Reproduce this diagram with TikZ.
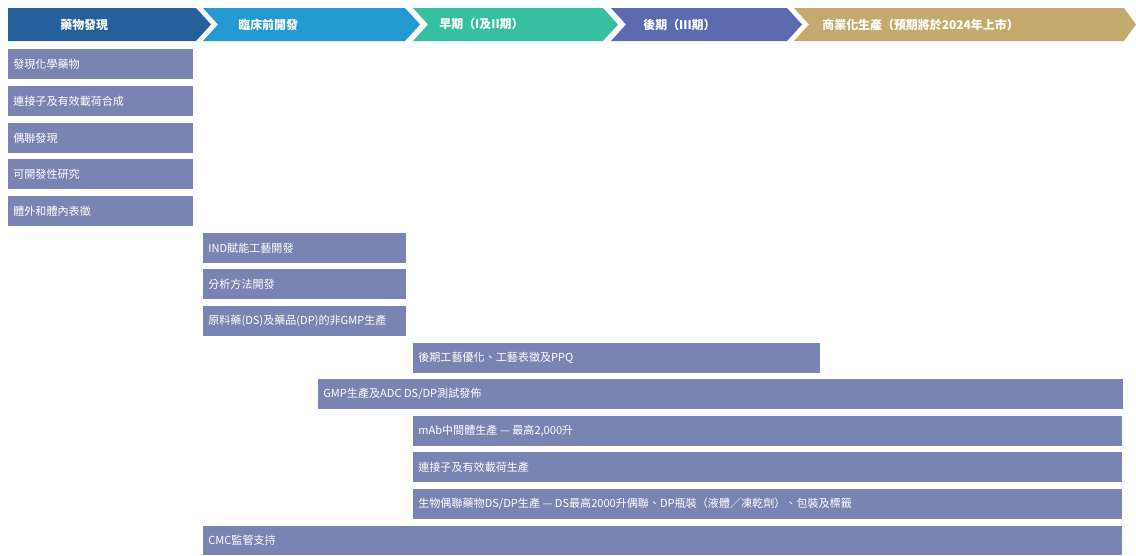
\documentclass[tikz,border=0pt]{standalone}
\usepackage{fontspec}
\setmainfont{Noto Sans CJK TC}
\usetikzlibrary{positioning}

\definecolor{phaseA}{HTML}{255F9C}
\definecolor{phaseB}{HTML}{2299D0}
\definecolor{phaseC}{HTML}{36BFA0}
\definecolor{phaseD}{HTML}{5C6AB0}
\definecolor{phaseE}{HTML}{C4AA6E}
\definecolor{barfill}{HTML}{7A84B2}

\begin{document}
\begin{tikzpicture}[x=0.02cm,y=-0.02cm,
  phasetext/.style={font=\fontsize{6.8}{8}\selectfont\bfseries,text=white,anchor=west,inner sep=0pt},
  bartext/.style={font=\fontsize{6.3}{7.5}\selectfont,text=white,anchor=west,inner sep=0pt}]
\useasboundingbox (0,0) rectangle (1136,555);

% phases
\fill[phaseA] (8,8) -- (196,8) -- (211,24.5) -- (196,41) -- (8,41) -- cycle;
\fill[phaseB] (203,8) -- (405,8) -- (420,24.5) -- (405,41) -- (203,41) -- (218,24.5) -- cycle;
\fill[phaseC] (413,8) -- (603,8) -- (618,24.5) -- (603,41) -- (413,41) -- (428,24.5) -- cycle;
\fill[phaseD] (611,8) -- (787,8) -- (802,24.5) -- (787,41) -- (611,41) -- (626,24.5) -- cycle;
\fill[phaseE] (794,8) -- (1124,8) -- (1136,24.5) -- (1124,41) -- (794,41) -- (809,24.5) -- cycle;
\node[phasetext] (discovery) at (60,24.5) {藥物發現};
\node[phasetext] (preclin) at (238,24.5) {臨床前開發};
\node[phasetext] (early) at (439,24.5) {早期（I及II期）};
\node[phasetext] (late) at (643,24.5) {後期（III期）};
\node[phasetext] (commercial) at (822,24.5) {商業化生產（預期將於2024年上市）};

% discovery bars
\fill[barfill] (8,49) rectangle (193,79);
\node[bartext] (chem) at (13,64) {發現化學藥物};
\fill[barfill] (8,86) rectangle (193,116);
\node[bartext] (linker) at (13,101) {連接子及有效載荷合成};
\fill[barfill] (8,123) rectangle (193,153);
\node[bartext] (conj) at (13,138) {偶聯發現};
\fill[barfill] (8,159) rectangle (193,189);
\node[bartext] (dev) at (13,174) {可開發性研究};
\fill[barfill] (8,196) rectangle (193,226);
\node[bartext] (char) at (13,211) {體外和體內表徵};

% preclinical bars
\fill[barfill] (203,233) rectangle (406,263);
\node[bartext] (ind) at (208,248) {IND賦能工藝開發};
\fill[barfill] (203,269) rectangle (406,299);
\node[bartext] (anal) at (208,284) {分析方法開發};
\fill[barfill] (203,306) rectangle (406,336);
\node[bartext] (nongmp) at (208,321) {原料藥(DS)及藥品(DP)的非GMP生產};

% clinical and commercial bars
\fill[barfill] (413,343) rectangle (820,373);
\node[bartext] (ppq) at (418,358) {後期工藝優化、工藝表徵及PPQ};
\fill[barfill] (318,379) rectangle (1123,409);
\node[bartext] (gmp) at (323,394) {GMP生產及ADC DS/DP測試發佈};
\fill[barfill] (413,416) rectangle (1122,446);
\node[bartext] (mab) at (418,431) {mAb中間體生產 — 最高2,000升};
\fill[barfill] (413,452) rectangle (1122,482);
\node[bartext] (lkprod) at (418,467) {連接子及有效載荷生產};
\fill[barfill] (413,489) rectangle (1122,519);
\node[bartext] (bioconj) at (418,504) {生物偶聯藥物DS/DP生產 — DS最高2000升偶聯、DP瓶裝（液體／凍乾劑）、包裝及標籤};
\fill[barfill] (203,526) rectangle (1122,555);
\node[bartext] (cmc) at (208,540.5) {CMC監管支持};

\end{tikzpicture}
\end{document}
